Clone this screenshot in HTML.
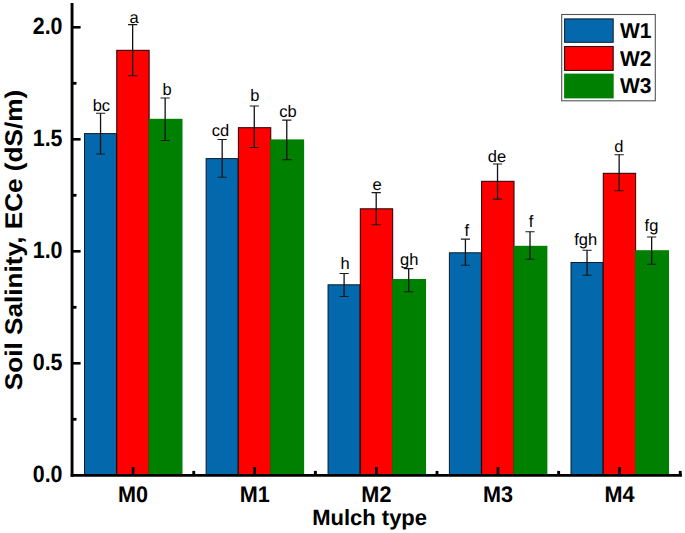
<!DOCTYPE html>
<html><head><meta charset="utf-8"><title>Soil Salinity chart</title>
<style>html,body{margin:0;padding:0;background:#fff;}svg{display:block;}text{font-family:"Liberation Sans",sans-serif;fill:#000;text-rendering:geometricPrecision;}.b{font-weight:bold;}</style></head><body>
<svg width="685" height="533" viewBox="0 0 685 533">
<rect width="685" height="533" fill="#fff"/>
<rect x="84.50" y="133.60" width="31.95" height="341.40" fill="#0369AC" stroke="#0b1a2c" stroke-width="1"/>
<rect x="116.75" y="50.30" width="32.40" height="424.70" fill="#FF0000" stroke="#200000" stroke-width="1"/>
<rect x="148.55" y="118.80" width="33.95" height="356.70" fill="#008000"/>
<rect x="206.12" y="158.60" width="31.95" height="316.40" fill="#0369AC" stroke="#0b1a2c" stroke-width="1"/>
<rect x="238.38" y="127.70" width="32.40" height="347.30" fill="#FF0000" stroke="#200000" stroke-width="1"/>
<rect x="270.18" y="139.40" width="33.95" height="336.10" fill="#008000"/>
<rect x="328.05" y="284.80" width="31.95" height="190.20" fill="#0369AC" stroke="#0b1a2c" stroke-width="1"/>
<rect x="360.30" y="208.80" width="32.40" height="266.20" fill="#FF0000" stroke="#200000" stroke-width="1"/>
<rect x="392.10" y="279.00" width="33.95" height="196.50" fill="#008000"/>
<rect x="449.38" y="252.80" width="31.95" height="222.20" fill="#0369AC" stroke="#0b1a2c" stroke-width="1"/>
<rect x="481.62" y="181.30" width="32.40" height="293.70" fill="#FF0000" stroke="#200000" stroke-width="1"/>
<rect x="513.42" y="245.80" width="33.95" height="229.70" fill="#008000"/>
<rect x="571.00" y="262.50" width="31.95" height="212.50" fill="#0369AC" stroke="#0b1a2c" stroke-width="1"/>
<rect x="603.25" y="173.30" width="32.40" height="301.70" fill="#FF0000" stroke="#200000" stroke-width="1"/>
<rect x="635.05" y="250.20" width="33.95" height="225.30" fill="#008000"/>
<path d="M100.55 113.20V154.00" stroke="#111" stroke-width="1.3" fill="none"/>
<path d="M95.95 113.20H105.15M95.95 154.00H105.15" stroke="#1a1a1a" stroke-width="1.05" fill="none"/>
<path d="M132.65 24.60V75.70" stroke="#111" stroke-width="1.3" fill="none"/>
<path d="M128.05 24.60H137.25M128.05 75.70H137.25" stroke="#1a1a1a" stroke-width="1.05" fill="none"/>
<path d="M165.15 97.90V140.50" stroke="#111" stroke-width="1.3" fill="none"/>
<path d="M160.55 97.90H169.75M160.55 140.50H169.75" stroke="#1a1a1a" stroke-width="1.05" fill="none"/>
<path d="M222.18 139.40V177.30" stroke="#111" stroke-width="1.3" fill="none"/>
<path d="M217.58 139.40H226.78M217.58 177.30H226.78" stroke="#1a1a1a" stroke-width="1.05" fill="none"/>
<path d="M254.28 106.00V147.40" stroke="#111" stroke-width="1.3" fill="none"/>
<path d="M249.68 106.00H258.88M249.68 147.40H258.88" stroke="#1a1a1a" stroke-width="1.05" fill="none"/>
<path d="M286.77 120.10V159.60" stroke="#111" stroke-width="1.3" fill="none"/>
<path d="M282.17 120.10H291.38M282.17 159.60H291.38" stroke="#1a1a1a" stroke-width="1.05" fill="none"/>
<path d="M344.10 273.40V296.40" stroke="#111" stroke-width="1.3" fill="none"/>
<path d="M339.50 273.40H348.70M339.50 296.40H348.70" stroke="#1a1a1a" stroke-width="1.05" fill="none"/>
<path d="M376.20 192.60V224.70" stroke="#111" stroke-width="1.3" fill="none"/>
<path d="M371.60 192.60H380.80M371.60 224.70H380.80" stroke="#1a1a1a" stroke-width="1.05" fill="none"/>
<path d="M408.70 268.60V291.70" stroke="#111" stroke-width="1.3" fill="none"/>
<path d="M404.10 268.60H413.30M404.10 291.70H413.30" stroke="#1a1a1a" stroke-width="1.05" fill="none"/>
<path d="M465.42 239.10V265.20" stroke="#111" stroke-width="1.3" fill="none"/>
<path d="M460.82 239.10H470.02M460.82 265.20H470.02" stroke="#1a1a1a" stroke-width="1.05" fill="none"/>
<path d="M497.52 163.90V199.10" stroke="#111" stroke-width="1.3" fill="none"/>
<path d="M492.92 163.90H502.12M492.92 199.10H502.12" stroke="#1a1a1a" stroke-width="1.05" fill="none"/>
<path d="M530.02 231.80V259.30" stroke="#111" stroke-width="1.3" fill="none"/>
<path d="M525.42 231.80H534.62M525.42 259.30H534.62" stroke="#1a1a1a" stroke-width="1.05" fill="none"/>
<path d="M587.05 250.20V275.20" stroke="#111" stroke-width="1.3" fill="none"/>
<path d="M582.45 250.20H591.65M582.45 275.20H591.65" stroke="#1a1a1a" stroke-width="1.05" fill="none"/>
<path d="M619.15 154.80V190.80" stroke="#111" stroke-width="1.3" fill="none"/>
<path d="M614.55 154.80H623.75M614.55 190.80H623.75" stroke="#1a1a1a" stroke-width="1.05" fill="none"/>
<path d="M651.65 237.00V264.30" stroke="#111" stroke-width="1.3" fill="none"/>
<path d="M647.05 237.00H656.25M647.05 264.30H656.25" stroke="#1a1a1a" stroke-width="1.05" fill="none"/>
<text x="101.4" y="110.5" font-size="16.5" text-anchor="middle">bc</text>
<text x="134.0" y="23.0" font-size="16.5" text-anchor="middle">a</text>
<text x="167.0" y="95.0" font-size="16.5" text-anchor="middle">b</text>
<text x="220.5" y="136.0" font-size="16.5" text-anchor="middle">cd</text>
<text x="254.8" y="100.9" font-size="16.5" text-anchor="middle">b</text>
<text x="288.0" y="116.9" font-size="16.5" text-anchor="middle">cb</text>
<text x="345.0" y="268.6" font-size="16.5" text-anchor="middle">h</text>
<text x="377.2" y="189.6" font-size="16.5" text-anchor="middle">e</text>
<text x="409.2" y="264.8" font-size="16.5" text-anchor="middle">gh</text>
<text x="466.8" y="235.7" font-size="16.5" text-anchor="middle">f</text>
<text x="497.0" y="161.7" font-size="16.5" text-anchor="middle">de</text>
<text x="531.0" y="226.7" font-size="16.5" text-anchor="middle">f</text>
<text x="585.7" y="244.6" font-size="16.5" text-anchor="middle">fgh</text>
<text x="618.8" y="152.0" font-size="16.5" text-anchor="middle">d</text>
<text x="651.5" y="230.5" font-size="16.5" text-anchor="middle">fg</text>
<path d="M72.05 3V476.8" stroke="#000" stroke-width="2.9" fill="none"/>
<path d="M70.7 475.4H681.9" stroke="#000" stroke-width="2.9" fill="none"/>
<text class="b" transform="translate(62.5 482.0) scale(1.02 1.125)" font-size="21" text-anchor="end">0.0</text>
<path d="M72.05 363.3H80.6" stroke="#000" stroke-width="2.6"/>
<text class="b" transform="translate(62.5 370.0) scale(1.02 1.125)" font-size="21" text-anchor="end">0.5</text>
<path d="M72.05 251.3H80.6" stroke="#000" stroke-width="2.6"/>
<text class="b" transform="translate(62.5 258.0) scale(1.02 1.125)" font-size="21" text-anchor="end">1.0</text>
<path d="M72.05 139.3H80.6" stroke="#000" stroke-width="2.6"/>
<text class="b" transform="translate(62.5 146.0) scale(1.02 1.125)" font-size="21" text-anchor="end">1.5</text>
<path d="M72.05 27.3H80.6" stroke="#000" stroke-width="2.6"/>
<text class="b" transform="translate(62.5 34.0) scale(1.02 1.125)" font-size="21" text-anchor="end">2.0</text>
<path d="M72.05 419.3H76.5" stroke="#000" stroke-width="2.8"/>
<path d="M72.05 307.3H76.5" stroke="#000" stroke-width="2.8"/>
<path d="M72.05 195.3H76.5" stroke="#000" stroke-width="2.8"/>
<path d="M72.05 83.3H76.5" stroke="#000" stroke-width="2.8"/>
<path d="M133.10 475.5V467" stroke="#000" stroke-width="2.7"/>
<path d="M193.76 475.5V470.9" stroke="#000" stroke-width="2.9"/>
<text class="b" transform="translate(133.1 502.2) scale(1.03 1.08)" font-size="21" text-anchor="middle">M0</text>
<path d="M254.72 475.5V467" stroke="#000" stroke-width="2.7"/>
<path d="M315.39 475.5V470.9" stroke="#000" stroke-width="2.9"/>
<text class="b" transform="translate(254.7 502.2) scale(1.03 1.08)" font-size="21" text-anchor="middle">M1</text>
<path d="M376.35 475.5V467" stroke="#000" stroke-width="2.7"/>
<path d="M437.01 475.5V470.9" stroke="#000" stroke-width="2.9"/>
<text class="b" transform="translate(376.4 502.2) scale(1.03 1.08)" font-size="21" text-anchor="middle">M2</text>
<path d="M497.98 475.5V467" stroke="#000" stroke-width="2.7"/>
<path d="M558.64 475.5V470.9" stroke="#000" stroke-width="2.9"/>
<text class="b" transform="translate(498.0 502.2) scale(1.03 1.08)" font-size="21" text-anchor="middle">M3</text>
<path d="M619.60 475.5V467" stroke="#000" stroke-width="2.7"/>
<path d="M680.26 475.5V470.9" stroke="#000" stroke-width="2.9"/>
<text class="b" transform="translate(619.6 502.2) scale(1.03 1.08)" font-size="21" text-anchor="middle">M4</text>
<text class="b" x="369.6" y="524.8" font-size="22" text-anchor="middle">Mulch type</text>
<text class="b" transform="translate(21.5 240) rotate(-90) scale(1.082 1)" font-size="24.2" text-anchor="middle">Soil Salinity, ECe (dS/m)</text>
<rect x="561.7" y="14.5" width="93.6" height="86.3" fill="#fff" stroke="#555" stroke-width="1.1"/>
<rect x="564.6" y="18.9" width="48.6" height="23.4" fill="#0369AC" stroke="#0b1a2c" stroke-width="1"/>
<rect x="564.6" y="46.5" width="48.6" height="23.9" fill="#FF0000" stroke="#200000" stroke-width="1"/>
<rect x="564.1" y="73.6" width="49.6" height="24.8" fill="#008000"/>
<text class="b" transform="translate(620 37.7) scale(1 1.025)" font-size="21">W1</text>
<text class="b" transform="translate(620 65.6) scale(1 1.025)" font-size="21">W2</text>
<text class="b" transform="translate(620 93.3) scale(1 1.025)" font-size="21">W3</text>
</svg></body></html>
